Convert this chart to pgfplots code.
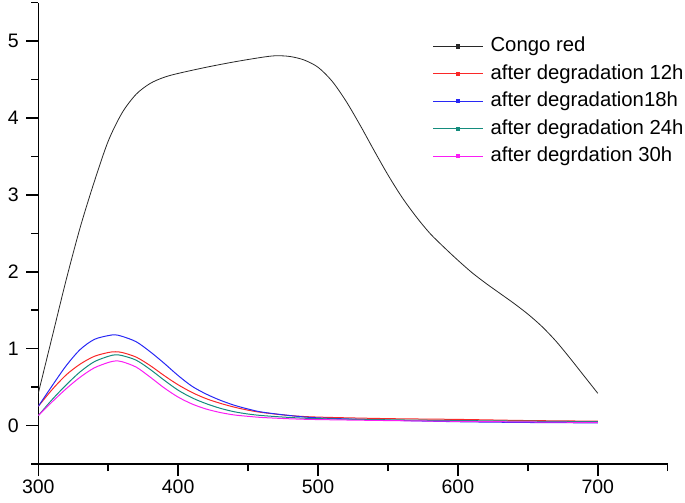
\documentclass[border=0pt]{standalone}
\usepackage{fontspec}
\setmainfont{Liberation Sans}
\usepackage{pgfplots}
\pgfplotsset{compat=1.18}
\definecolor{cblack}{RGB}{40,40,40}
\definecolor{cred}{RGB}{250,40,40}
\definecolor{cblue}{RGB}{40,40,245}
\definecolor{cteal}{RGB}{20,140,125}
\definecolor{cmag}{RGB}{250,30,245}
\begin{document}
\begin{tikzpicture}
\path[use as bounding box] (-38.3bp,-39bp) rectangle (646.7bp,464bp);
\begin{axis}[
  at={(0,0)}, anchor=south west,
  scale only axis, width=629.4bp, height=461.3bp,
  xmin=300, xmax=750, ymin=-0.5, ymax=5.5,
  axis x line=bottom, axis y line=left,
  axis line style={-, line width=1.5bp, black},
  xtick={300,400,...,700}, minor xtick={350,450,...,750},
  ytick={0,1,2,3,4,5}, minor ytick={-0.5,0.5,1.5,2.5,3.5,4.5,5.5},
  tick align=outside, major tick length=12bp, minor tick length=7bp,
  every tick/.style={line width=1.5bp, black},
  /pgf/number format/assume math mode=true,
  /pgf/number format/1000 sep={},
  tick label style={font=\fontsize{19.5bp}{22bp}\selectfont},
  yticklabel style={xshift=-4bp},
  legend style={draw=none, fill=none, inner sep=0pt,
    at={(axis cs:581.9,5.06)}, anchor=north west,
    font=\fontsize{20.3bp}{23bp}\selectfont,
    row sep=8.5bp, column sep=7bp,
    nodes={inner sep=0pt, text height=15bp, text depth=4bp}},
  legend cell align=left,
  legend image code/.code={\draw[#1, line width=0.8bp] (0bp,0bp) -- (50bp,0bp);
     \fill[#1] (23.3bp,-1.7bp) rectangle (26.7bp,1.7bp);},
]
\addplot[cblack, line width=0.8bp, smooth, tension=0.5] coordinates {
(300,0.42) (310,1.16) (320,1.90) (330,2.58) (340,3.17) (350,3.70) (360,4.07) (370,4.31)
(380,4.45) (390,4.53) (400,4.58) (420,4.66) (440,4.73) (460,4.79) (470,4.81) (480,4.80)
(490,4.755) (500,4.66) (510,4.48) (520,4.22) (530,3.91) (540,3.58) (550,3.26) (560,2.97)
(570,2.72) (580,2.50) (590,2.32) (600,2.15) (610,1.99) (620,1.85) (630,1.72) (640,1.59)
(650,1.45) (660,1.29) (670,1.10) (680,0.88) (690,0.65) (700,0.42)};
\addlegendentry{Congo red}
\addplot[cred, line width=1bp, smooth, tension=0.5] coordinates {
(300,0.25) (310,0.47) (320,0.66) (330,0.80) (340,0.90) (350,0.95) (355,0.96) (360,0.95)
(370,0.89) (380,0.78) (390,0.65) (400,0.53) (410,0.43) (420,0.35) (430,0.29) (440,0.24)
(450,0.20) (460,0.17) (480,0.13) (500,0.11) (550,0.09) (600,0.08) (650,0.065) (700,0.057)};
\addlegendentry{after degradation 12h}
\addplot[cblue, line width=1bp, smooth, tension=0.5] coordinates {
(300,0.25) (310,0.52) (320,0.78) (330,0.99) (340,1.12) (350,1.17) (355,1.18) (360,1.16)
(370,1.09) (380,0.96) (390,0.81) (400,0.65) (410,0.51) (420,0.41) (430,0.33) (440,0.265)
(450,0.215) (460,0.175) (480,0.13) (500,0.10) (550,0.07) (600,0.05) (650,0.04) (700,0.035)};
\addlegendentry{after degradation18h}
\addplot[cteal, line width=1bp, smooth, tension=0.5] coordinates {
(300,0.13) (310,0.34) (320,0.53) (330,0.70) (340,0.83) (350,0.90) (355,0.92) (360,0.91)
(370,0.85) (380,0.73) (390,0.59) (400,0.46) (410,0.36) (420,0.285) (430,0.225) (440,0.18)
(450,0.15) (460,0.13) (480,0.105) (500,0.09) (550,0.075) (600,0.065) (650,0.057) (700,0.05)};
\addlegendentry{after degradation 24h}
\addplot[cmag, line width=1bp, smooth, tension=0.5] coordinates {
(300,0.13) (310,0.31) (320,0.48) (330,0.63) (340,0.75) (350,0.82) (355,0.84) (360,0.83)
(370,0.76) (380,0.63) (390,0.49) (400,0.37) (410,0.28) (420,0.215) (430,0.17) (440,0.138)
(450,0.12) (460,0.105) (480,0.088) (500,0.078) (550,0.065) (600,0.055) (650,0.047) (700,0.04)};
\addlegendentry{after degrdation 30h}
\end{axis}
\end{tikzpicture}
\end{document}
